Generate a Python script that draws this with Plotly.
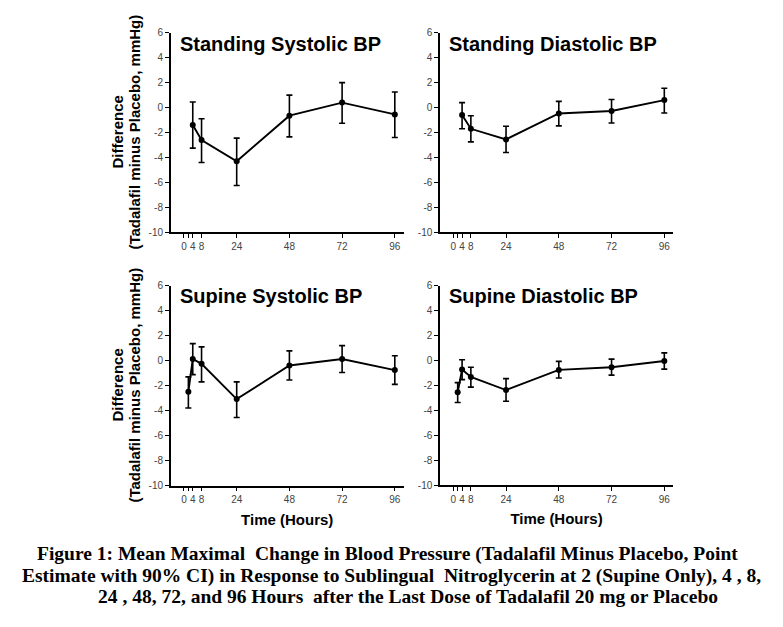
import plotly.graph_objects as go

W, H = 783, 627

# ---- data ----
hours_standing = [4, 8, 24, 48, 72, 96]
hours_supine = [2, 4, 8, 24, 48, 72, 96]

standing_sys = [-1.4, -2.6, -4.3, -0.65, 0.4, -0.55]
standing_sys_lo = [-3.25, -4.4, -6.25, -2.35, -1.25, -2.4]
standing_sys_hi = [0.45, -0.9, -2.45, 1.0, 2.0, 1.25]

standing_dia = [-0.6, -1.7, -2.55, -0.47, -0.27, 0.6]
standing_dia_lo = [-1.7, -2.75, -3.6, -1.47, -1.24, -0.43]
standing_dia_hi = [0.4, -0.65, -1.5, 0.5, 0.65, 1.55]

supine_sys = [-2.5, 0.13, -0.26, -3.08, -0.39, 0.13, -0.76]
supine_sys_lo = [-3.79, -1.12, -1.7, -4.55, -1.55, -0.95, -1.9]
supine_sys_hi = [-1.3, 1.36, 1.1, -1.7, 0.78, 1.2, 0.39]

supine_dia = [-2.56, -0.73, -1.33, -2.38, -0.76, -0.55, -0.05]
supine_dia_lo = [-3.37, -1.54, -2.14, -3.27, -1.41, -1.18, -0.7]
supine_dia_hi = [-1.78, 0.05, -0.55, -1.46, -0.08, 0.1, 0.6]

panel_titles = ["Standing Systolic BP", "Standing Diastolic BP",
                "Supine Systolic BP", "Supine Diastolic BP"]
x_tickvals = [0, 2, 4, 8, 24, 48, 72, 96]
x_ticktext = ["0", "", "4", "8", "24", "48", "72", "96"]
y_tickvals = [6, 4, 2, 0, -2, -4, -6, -8, -10]
y_ticktext = ["6", "4", "2", "0", "-2", "-4", "-6", "-8", "-10"]
caption_lines = [
    "Figure 1: Mean Maximal  Change in Blood Pressure (Tadalafil Minus Placebo, Point",
    "Estimate with 90% CI) in Response to Sublingual  Nitroglycerin at 2 (Supine Only), 4 , 8,",
    "24 , 48, 72, and 96 Hours  after the Last Dose of Tadalafil 20 mg or Placebo",
]

panels = [
    (hours_standing, standing_sys, standing_sys_lo, standing_sys_hi),
    (hours_standing, standing_dia, standing_dia_lo, standing_dia_hi),
    (hours_supine, supine_sys, supine_sys_lo, supine_sys_hi),
    (hours_supine, supine_dia, supine_dia_lo, supine_dia_hi),
]

# pixel geometry of each plotting area: (x0, x1, ytop, ybottom)
geom = [
    (170.8, 403.6, 27.3, 230.7),
    (440.1, 673.1, 27.3, 230.7),
    (170.8, 403.6, 285.0, 489.0),
    (440.1, 673.1, 285.0, 488.5),
]

fig = go.Figure()
sans = "Liberation Sans, Arial, sans-serif"
serif = "Liberation Serif, Times New Roman, serif"

def px(x):
    return x / W

def py(y):
    return 1 - y / H

for i, ((hx, est, lo, hi), (x0, x1, yt, yb)) in enumerate(zip(panels, geom)):
    n = "" if i == 0 else str(i + 1)
    fig.add_trace(go.Scatter(
        x=hx, y=est, mode="lines+markers",
        line=dict(color="black", width=1.9),
        marker=dict(color="black", size=6),
        error_y=dict(type="data", symmetric=False,
                     array=[h - e for h, e in zip(hi, est)],
                     arrayminus=[e - l for e, l in zip(est, lo)],
                     color="black", thickness=1.6, width=3),
        xaxis="x" + n, yaxis="y" + n, showlegend=False, hoverinfo="skip",
    ))
    bottom_row = i >= 2
    fig.layout["xaxis" + n] = dict(
        domain=[px(x0), px(x1)], anchor="y" + n, range=[-6, 100],
        tickvals=x_tickvals, ticktext=x_ticktext, ticks="outside", ticklen=4,
        tickwidth=1.2, tickcolor="black", showline=True, linecolor="black",
        linewidth=1.6, showgrid=False, zeroline=False,
        tickfont=dict(family=sans, size=10, color="#444"),
        title=dict(text="<b>Time (Hours)</b>" if bottom_row else "",
                   font=dict(family=sans, size=15, color="black"), standoff=10),
    )
    fig.layout["yaxis" + n] = dict(
        domain=[py(yb), py(yt)], anchor="x" + n, range=[-10, 6],
        tickvals=y_tickvals, ticktext=y_ticktext, ticks="outside", ticklen=4,
        tickwidth=1.2, tickcolor="black", showline=True, linecolor="black",
        linewidth=1.6, showgrid=False, zeroline=False,
        tickfont=dict(family=sans, size=10, color="#444"),
    )
    fig.add_annotation(
        text="<b>" + panel_titles[i] + "</b>", xref="paper", yref="paper",
        x=px(x0 + 7), y=py(yt + 11), xanchor="left", yanchor="middle",
        showarrow=False, font=dict(family=sans, size=20, color="black"),
    )
    if i % 2 == 0:
        ymid = py((yt + yb) / 2)
        fig.add_annotation(
            text="<b>Difference</b>", xref="paper", yref="paper",
            x=px(118), y=ymid, xanchor="center", yanchor="middle",
            textangle=-90, showarrow=False,
            font=dict(family=sans, size=15, color="black"),
        )
        fig.add_annotation(
            text="<b>(Tadalafil minus Placebo, mmHg)</b>", xref="paper", yref="paper",
            x=px(135), y=ymid, xanchor="center", yanchor="middle",
            textangle=-90, showarrow=False,
            font=dict(family=sans, size=15, color="black"),
        )

for line, xc, yc in zip(caption_lines, [387, 391, 408], [559, 581, 602]):
    fig.add_annotation(
        text="<b>" + line + "</b>", xref="paper", yref="paper",
        x=px(xc), y=py(yc), xanchor="center", yanchor="middle",
        showarrow=False, font=dict(family=serif, size=19.5, color="black"),
    )

fig.update_layout(
    width=W, height=H, margin=dict(l=0, r=0, t=0, b=0),
    paper_bgcolor="white", plot_bgcolor="white",
)

fig.write_html("out.html", config={"displayModeBar": False},
               post_script="document.body.style.margin='0';")
